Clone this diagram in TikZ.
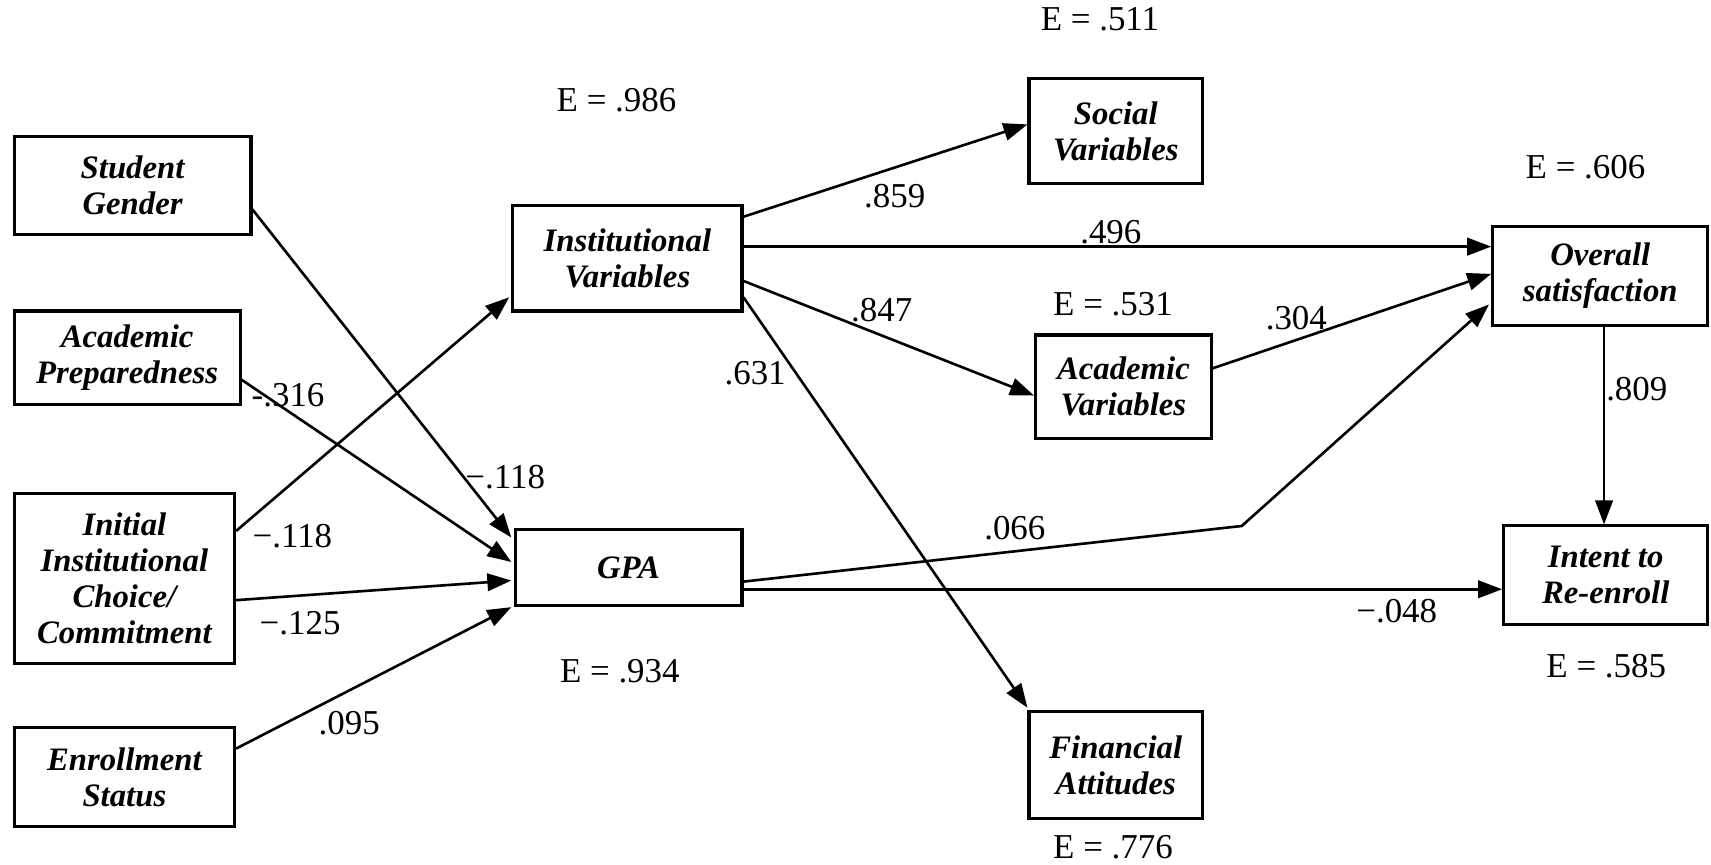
\documentclass[tikz,border=0pt]{standalone}
\usepackage{fontspec}
\setmainfont{Liberation Serif}
\usetikzlibrary{positioning, arrows.meta, calc}

\begin{document}
\begin{tikzpicture}[x=0.5pt, y=-0.5pt,
        var/.style={rectangle, draw, line width=1.4pt, align=center, inner sep=0pt,
                    font=\fontsize{15}{16.5}\selectfont\bfseries\itshape},
        coef/.style={font=\fontsize{16}{18}\selectfont, inner sep=1pt},
        link/.style={-{Triangle[length=11pt, width=8pt]}, line width=1.2pt}
      ]
        \useasboundingbox (0,0) rectangle (1568,792);
        \node[var, minimum width=108.5pt, minimum height=45pt] (sg) at (121.5,170) {Student\\Gender};
        \node[var, minimum width=103.5pt, minimum height=43pt] (ap) at (116.5,328) {Academic\\Preparedness};
        \node[var, minimum width=101pt, minimum height=78pt] (ic) at (114,530) {Initial\\Institutional\\Choice/\\Commitment};
        \node[var, minimum width=101pt, minimum height=45pt] (es) at (114,712) {Enrollment\\Status};
        \node[var, minimum width=105pt, minimum height=48.5pt] (iv) at (575,236.5) {Institutional\\Variables};
        \node[var, minimum width=104pt, minimum height=35pt] (gpa) at (576,520) {GPA};
        \node[var, minimum width=79.5pt, minimum height=48pt] (sv) at (1022.5,120) {Social\\Variables};
        \node[var, minimum width=80.5pt, minimum height=47.5pt] (av) at (1029.5,354.5) {Academic\\Variables};
        \node[var, minimum width=79.5pt, minimum height=49pt] (fa) at (1022.5,701) {Financial\\Attitudes};
        \node[var, minimum width=98.5pt, minimum height=45pt] (os) at (1466.5,253) {Overall\\satisfaction};
        \node[var, minimum width=93.5pt, minimum height=45pt] (ir) at (1471.5,527) {Intent to\\Re-enroll};

        \node[coef] (e1) at (1008,18) {E = .511};
        \node[coef] (e2) at (565,92) {E = .986};
        \node[coef] (e3) at (1453,153) {E = .606};
        \node[coef] (e4) at (1020,279) {E = .531};
        \node[coef] (e5) at (568,615) {E = .934};
        \node[coef] (e6) at (1472,610) {E = .585};
        \node[coef] (e7) at (1020,776) {E = .776};

        \node[coef] (c1) at (820,180) {.859};
        \node[coef] (c2) at (1018,213) {.496};
        \node[coef] (c3) at (808,284) {.847};
        \node[coef] (c4) at (1188,292) {.304};
        \node[coef] (c5) at (692,342) {.631};
        \node[coef] (c6) at (1500,357) {.809};
        \node[coef] (c7) at (264,362) {-.316};
        \node[coef] (c8) at (463,437) {−.118};
        \node[coef] (c9) at (268,491) {−.118};
        \node[coef] (c10) at (275,571) {−.125};
        \node[coef] (c11) at (320,663) {.095};
        \node[coef] (c12) at (930,484) {.066};
        \node[coef] (c13) at (1280,560) {−.048};

        \draw[link] ($(sg.east)+(0,22)$) -- ($(gpa.north west)+(-2,9)$);
        \draw[link] ($(ap.east)+(0,20)$) -- ($(gpa.west)+(-2,-5)$);
        \draw[link] ($(ic.north east)+(0,36)$) -- ($(iv.south west)+(-2,-14)$);
        \draw[link] ($(ic.east)+(0,20)$) -- ($(gpa.west)+(-2,12)$);
        \draw[link] ($(es.east)+(0,-26)$) -- ($(gpa.south west)+(-2,0)$);
        \draw[link] ($(iv.north east)+(0,12)$) -- ($(sv.west)+(0,-6)$);
        \draw[link] ($(iv.east)+(0,-10.5)$) -- ($(os.west)+(0,-27)$);
        \draw[link] ($(iv.east)+(0,21)$) -- ($(av.west)+(0,8)$);
        \draw[link] ($(iv.east)+(0,36)$) -- ($(fa.north west)+(0,-2)$);
        \draw[link] ($(av.east)+(0,-17)$) -- ($(os.west)+(0,-2)$);
        \coordinate (bend) at (1138,482);
        \draw[link] ($(gpa.east)+(0,13)$) -- (bend) -- ($(os.west)+(-2,26)$);
        \draw[link] ($(gpa.east)+(0,20)$) -- ($(ir.west)+(0,13)$);
        \draw[link] ($(os.south)+(3.5,0)$) -- ($(ir.north)+(-1.5,0)$);
      \end{tikzpicture}
\end{document}
